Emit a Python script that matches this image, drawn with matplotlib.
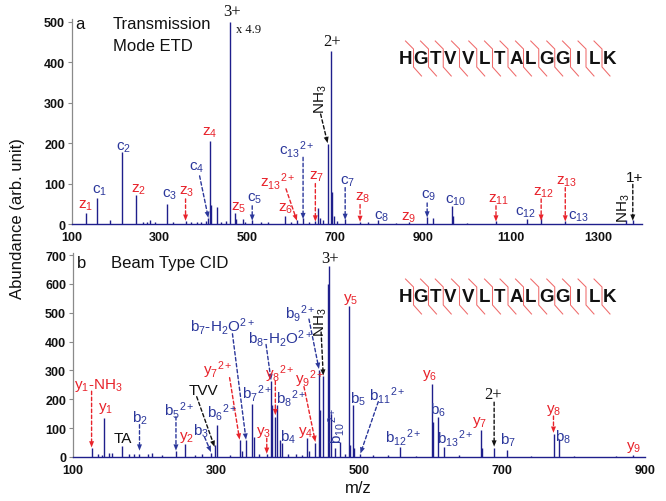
import matplotlib
matplotlib.use('Agg')
import matplotlib.pyplot as plt

plt.rcParams['font.family'] = ['Liberation Sans', 'DejaVu Sans']
plt.rcParams['mathtext.fontset'] = 'custom'
plt.rcParams['mathtext.rm'] = 'Liberation Sans'
plt.rcParams['mathtext.it'] = 'Liberation Sans'
plt.rcParams['mathtext.bf'] = 'Liberation Sans:bold'

# ---------------- data ----------------
etd_mz = [133, 157.5, 186, 214, 246, 262, 270, 278, 290, 316, 330, 359, 372, 385, 395,
          405, 411, 414, 418, 430, 440, 452, 461, 471, 474, 489, 494, 511, 530, 548,
          586, 600, 613, 627, 640, 655, 661, 665, 672, 683, 690, 693, 697, 705, 723,
          757, 775, 798, 840, 868, 910, 923, 967, 970, 1000, 1067, 1138, 1170, 1225,
          1363, 1379]
etd_int = [27, 64, 10, 178, 72, 5, 6, 9, 4, 50, 4, 8, 4, 5, 4,
           8, 15, 206, 48, 42, 5, 8, 500, 28, 12, 12, 6, 10, 5, 4,
           20, 5, 10, 15, 5, 8, 40, 15, 10, 197, 429, 80, 20, 8, 12,
           5, 4, 10, 3, 4, 18, 15, 44, 20, 3, 8, 12, 15, 8,
           10, 10]

cid_mz = [126, 135, 140, 144, 150, 155, 169, 178, 186, 193, 205, 210, 225, 244, 257,
          270, 280, 293, 298, 302, 320, 333, 336, 342, 351, 353, 360, 371, 377, 379,
          383, 386, 389, 392, 400, 412, 420, 427, 430, 439, 444, 446, 450, 456, 458,
          461, 466, 473, 480, 486, 488, 491, 493, 502, 520, 540, 558, 580, 602, 604,
          610, 619, 640, 670, 672, 689, 707, 740, 773, 780, 800, 860, 883]
cid_int = [31, 10, 8, 136, 15, 15, 38, 12, 10, 10, 12, 14, 8, 22, 45,
           8, 10, 15, 40, 110, 8, 60, 20, 60, 183, 70, 10, 10, 264, 180,
           140, 180, 60, 47, 12, 10, 8, 66, 20, 49, 302, 163, 279, 600, 663,
           150, 30, 52, 10, 523, 40, 180, 30, 10, 6, 6, 35, 5, 253, 120,
           140, 35, 6, 95, 30, 31, 23, 5, 81, 64, 5, 4, 8]

sequence = "HGTVVLTALGGILK"
etd_ticks = [100, 300, 500, 700, 900, 1100, 1300]
cid_ticks = [100, 300, 500, 700, 900]

NAVY = '#1f1f8c'
BLUE = '#2b379b'
RED = '#e8232b'
BLK = '#111111'


def ion(base, sub, sup=None):
    s = r'\mathregular{' + base + '_{' + sub + '}'
    if sup:
        s += '{}^{' + sup + '}'
    return '$' + s + '}$'


# annotations: text, x, y, color, arrow(x0,y0,x1,y1) or None, rotation, style
etd_labels = [
    (ion('z', '1'), 131, 47, RED, None, 0, 's'),
    (ion('c', '1'), 164, 84, BLUE, None, 0, 's'),
    (ion('c', '2'), 217, 192, BLUE, None, 0, 's'),
    (ion('z', '2'), 252, 88, RED, None, 0, 's'),
    (ion('c', '3'), 323, 75, BLUE, None, 0, 's'),
    (ion('z', '3'), 361, 81, RED, (359, 62, 359, 8), 0, 's'),
    (ion('c', '4'), 384, 142, BLUE, (391, 119, 411, 15), 0, 's'),
    (ion('z', '4'), 414, 228, RED, None, 0, 's'),
    (ion('z', '5'), 481, 43, RED, None, 0, 's'),
    (ion('c', '5'), 517, 64, BLUE, (511, 45, 511, 8), 0, 's'),
    (ion('z', '6'), 586, 40, RED, None, 0, 's'),
    (ion('z', '13', '2+'), 570, 108, RED, (588, 87, 613, 8), 0, 's'),
    (ion('c', '13', '2+'), 612, 187, BLUE, (627, 165, 627, 12), 0, 's'),
    (ion('z', '7'), 658, 120, RED, (655, 100, 655, 6), 0, 's'),
    (ion('NH', '3'), 667, 310, BLK, (667, 272, 683, 200), 90, 's'),
    ('3+', 466, 528, BLK, None, 0, 'serif'),
    ('x 4.9', 503, 483, BLK, None, 0, 'serif_small'),
    ('2+', 692, 452, BLK, None, 0, 'serif'),
    (ion('c', '7'), 728, 108, BLUE, (723, 90, 723, 10), 0, 's'),
    (ion('z', '8'), 762, 67, RED, (757, 48, 757, 5), 0, 's'),
    (ion('c', '8'), 806, 21, BLUE, None, 0, 's'),
    (ion('z', '9'), 868, 18, RED, None, 0, 's'),
    (ion('c', '9'), 914, 71, BLUE, (910, 52, 910, 16), 0, 's'),
    (ion('c', '10'), 976, 59, BLUE, None, 0, 's'),
    (ion('z', '11'), 1073, 63, RED, (1067, 45, 1067, 6), 0, 's'),
    (ion('c', '12'), 1134, 31, BLUE, None, 0, 's'),
    (ion('z', '12'), 1176, 80, RED, (1170, 62, 1170, 8), 0, 's'),
    (ion('z', '13'), 1228, 108, RED, (1225, 90, 1225, 6), 0, 's'),
    (ion('c', '13'), 1256, 21, BLUE, None, 0, 's'),
    (ion('NH', '3'), 1358, 42, BLK, None, 90, 's'),
    ('1+', 1382, 116, BLK, (1379, 98, 1379, 8), 0, 's'),
]

cid_labels = [
    (ion('y', '1') + '-' + ion('NH', '3'), 135, 252, RED, (126, 228, 126, 33), 0, 's'),
    (ion('y', '1'), 145, 170, RED, None, 0, 's'),
    ('TA', 170, 66, BLK, None, 0, 's'),
    (ion('b', '2'), 194, 136, BLUE, (193, 112, 193, 22), 0, 's'),
    ('TVV', 283, 233, BLK, (273, 209, 298, 35), 0, 's'),
    (ion('b', '5', '2+'), 249, 164, BLUE, (244, 140, 244, 22), 0, 's'),
    (ion('y', '2'), 259, 72, RED, None, 0, 's'),
    (ion('b', '3'), 279, 92, BLUE, (284, 69, 293, 17), 0, 's'),
    (ion('b', '6', '2+'), 309, 159, BLUE, None, 0, 's'),
    (ion('y', '7', '2+'), 302, 306, RED, (319, 275, 333, 60), 0, 's'),
    (ion('b', '7') + '-' + ion('H', '2') + r'$\mathregular{O^{2+}}$', 309, 456, BLUE,
     (323, 427, 342, 60), 0, 's'),
    (ion('b', '7', '2+'), 358, 223, BLUE, None, 0, 's'),
    (ion('b', '8') + '-' + ion('H', '2') + r'$\mathregular{O^{2+}}$', 390, 415, BLUE,
     (370, 390, 377, 266), 0, 's'),
    (ion('y', '8', '2+'), 389, 292, RED, (383, 263, 383, 145), 0, 's'),
    (ion('b', '8', '2+'), 405, 207, BLUE, None, 0, 's'),
    (ion('y', '9', '2+'), 431, 272, RED, (423, 244, 439, 52), 0, 's'),
    (ion('y', '3'), 366, 89, RED, (371, 65, 371, 11), 0, 's'),
    (ion('b', '4'), 401, 72, BLUE, None, 0, 's'),
    (ion('y', '4'), 426, 89, RED, None, 0, 's'),
    (ion('b', '9', '2+'), 418, 502, BLUE, (430, 478, 444, 305), 0, 's'),
    (ion('NH', '3'), 447, 470, BLK, (447, 433, 450, 282), 90, 's'),
    ('3+', 460, 688, BLK, None, 0, 'serif'),
    (ion('b', '10', '2+'), 468, 110, BLUE, None, 90, 's'),
    (ion('y', '5'), 488, 549, RED, None, 0, 's'),
    (ion('b', '5'), 498, 205, BLUE, None, 0, 's'),
    (ion('b', '11', '2+'), 539, 216, BLUE, (527, 192, 502, 12), 0, 's'),
    (ion('b', '12', '2+'), 562, 72, BLUE, None, 0, 's'),
    (ion('y', '6'), 599, 287, RED, None, 0, 's'),
    (ion('b', '6'), 611, 165, BLUE, None, 0, 's'),
    (ion('b', '13', '2+'), 634, 66, BLUE, None, 0, 's'),
    (ion('y', '7'), 669, 124, RED, None, 0, 's'),
    ('2+', 688, 217, BLK, (689, 190, 689, 36), 0, 'serif'),
    (ion('b', '7'), 708, 60, BLUE, None, 0, 's'),
    (ion('y', '8'), 772, 165, RED, (772, 142, 772, 84), 0, 's'),
    (ion('b', '8'), 786, 72, BLUE, None, 0, 's'),
    (ion('y', '9'), 884, 37, RED, None, 0, 's'),
]

# ---------------- figure ----------------
W, H = 666, 502
fig = plt.figure(figsize=(W / 100, H / 100), dpi=100)


def rect(x0, y0, x1, y1):
    return [x0 / W, 1 - y1 / H, (x1 - x0) / W, (y1 - y0) / H]


ax1 = fig.add_axes(rect(72, 20, 642, 225))
ax2 = fig.add_axes(rect(73, 254, 645, 458))


def style_axes(ax, xlim, ylim, xticks, yticks):
    ax.set_xlim(*xlim)
    ax.set_ylim(*ylim)
    ax.set_xticks(xticks)
    ax.set_yticks(yticks)
    for s in ['top', 'right']:
        ax.spines[s].set_visible(False)
    ax.spines['left'].set_color('#8a8a8a')
    ax.spines['left'].set_linewidth(0.9)
    ax.spines['bottom'].set_color(NAVY)
    ax.spines['bottom'].set_linewidth(1.0)
    ax.tick_params(axis='y', direction='out', length=3, width=0.8, color='#8a8a8a', pad=2)
    ax.tick_params(axis='x', length=0, pad=5)
    for lab in ax.get_xticklabels() + ax.get_yticklabels():
        lab.set_fontweight('bold')
        lab.set_fontsize(9)
        lab.set_color('#111111')


def draw_labels(ax, labels):
    for t, x, y, c, arrow, rot, st in labels:
        if st == 'serif':
            fam, fs = 'Liberation Serif', 12
        elif st == 'serif_small':
            fam, fs = 'Liberation Serif', 9
        else:
            fam, fs = 'Liberation Sans', 11
        ax.text(x, y, t, color=c, ha='center', va='center', fontsize=fs,
                rotation=rot, family=fam, clip_on=False, zorder=5)
        if arrow:
            x0, y0, x1, y1 = arrow
            ax.annotate('', xy=(x1, y1), xytext=(x0, y0),
                        arrowprops=dict(arrowstyle='-', linestyle=(0, (2.5, 1.8)),
                                        color=c, lw=1.0, shrinkA=0, shrinkB=3))
            ax.annotate('', xy=(x1, y1), xytext=(x0, y0),
                        arrowprops=dict(arrowstyle='-|>,head_length=0.45,head_width=0.18',
                                        color=c, lw=0, shrinkA=0, shrinkB=0))


def draw_sequence(y_px):
    xs = [406, 421, 436, 450.5, 468.5, 485, 500, 516, 531, 546.5, 563, 578, 594, 610]
    for ch, x in zip(sequence, xs):
        fig.text(x / W, 1 - y_px / H, ch, ha='center', va='center',
                 fontsize=13.5, fontweight='bold', color='#111111')
    for a, b in zip(xs[:-1], xs[1:]):
        m = (a + b) / 2
        px = [m - 8, m, m, m + 8]
        py = [y_px - 18, y_px - 10, y_px + 8, y_px + 17]
        fig.add_artist(plt.Line2D([p / W for p in px], [1 - q / H for q in py],
                                  color='#ef6a6a', lw=0.75, transform=fig.transFigure))


# panel a
ax1.vlines(etd_mz, 0, etd_int, color=NAVY, lw=1.0)
style_axes(ax1, (100, 1400), (0, 507), etd_ticks, [0, 100, 200, 300, 400, 500])
draw_labels(ax1, etd_labels)
ax1.text(118, 495, 'a', fontsize=12, va='center', ha='center', color='#111111')
ax1.text(193, 495, 'Transmission', fontsize=12, va='center', ha='left', color='#111111')
ax1.text(193, 441, 'Mode ETD', fontsize=12, va='center', ha='left', color='#111111')

# panel b
ax2.vlines(cid_mz, 0, cid_int, color=NAVY, lw=1.0)
style_axes(ax2, (100, 900), (0, 707), cid_ticks, [0, 100, 200, 300, 400, 500, 600, 700])
draw_labels(ax2, cid_labels)
ax2.text(112, 675, 'b', fontsize=12, va='center', ha='center', color='#111111')
ax2.text(153, 675, 'Beam Type CID', fontsize=12, va='center', ha='left', color='#111111')

draw_sequence(60)
draw_sequence(298)

fig.text(18 / W, 1 - 219 / H, 'Abundance (arb. unit)', rotation=90, ha='center', va='center',
         fontsize=12, color='#111111')
fig.text(358 / W, 1 - 489 / H, 'm/z', ha='center', va='center', fontsize=12, color='#111111')

fig.savefig('out.png', dpi=100)
